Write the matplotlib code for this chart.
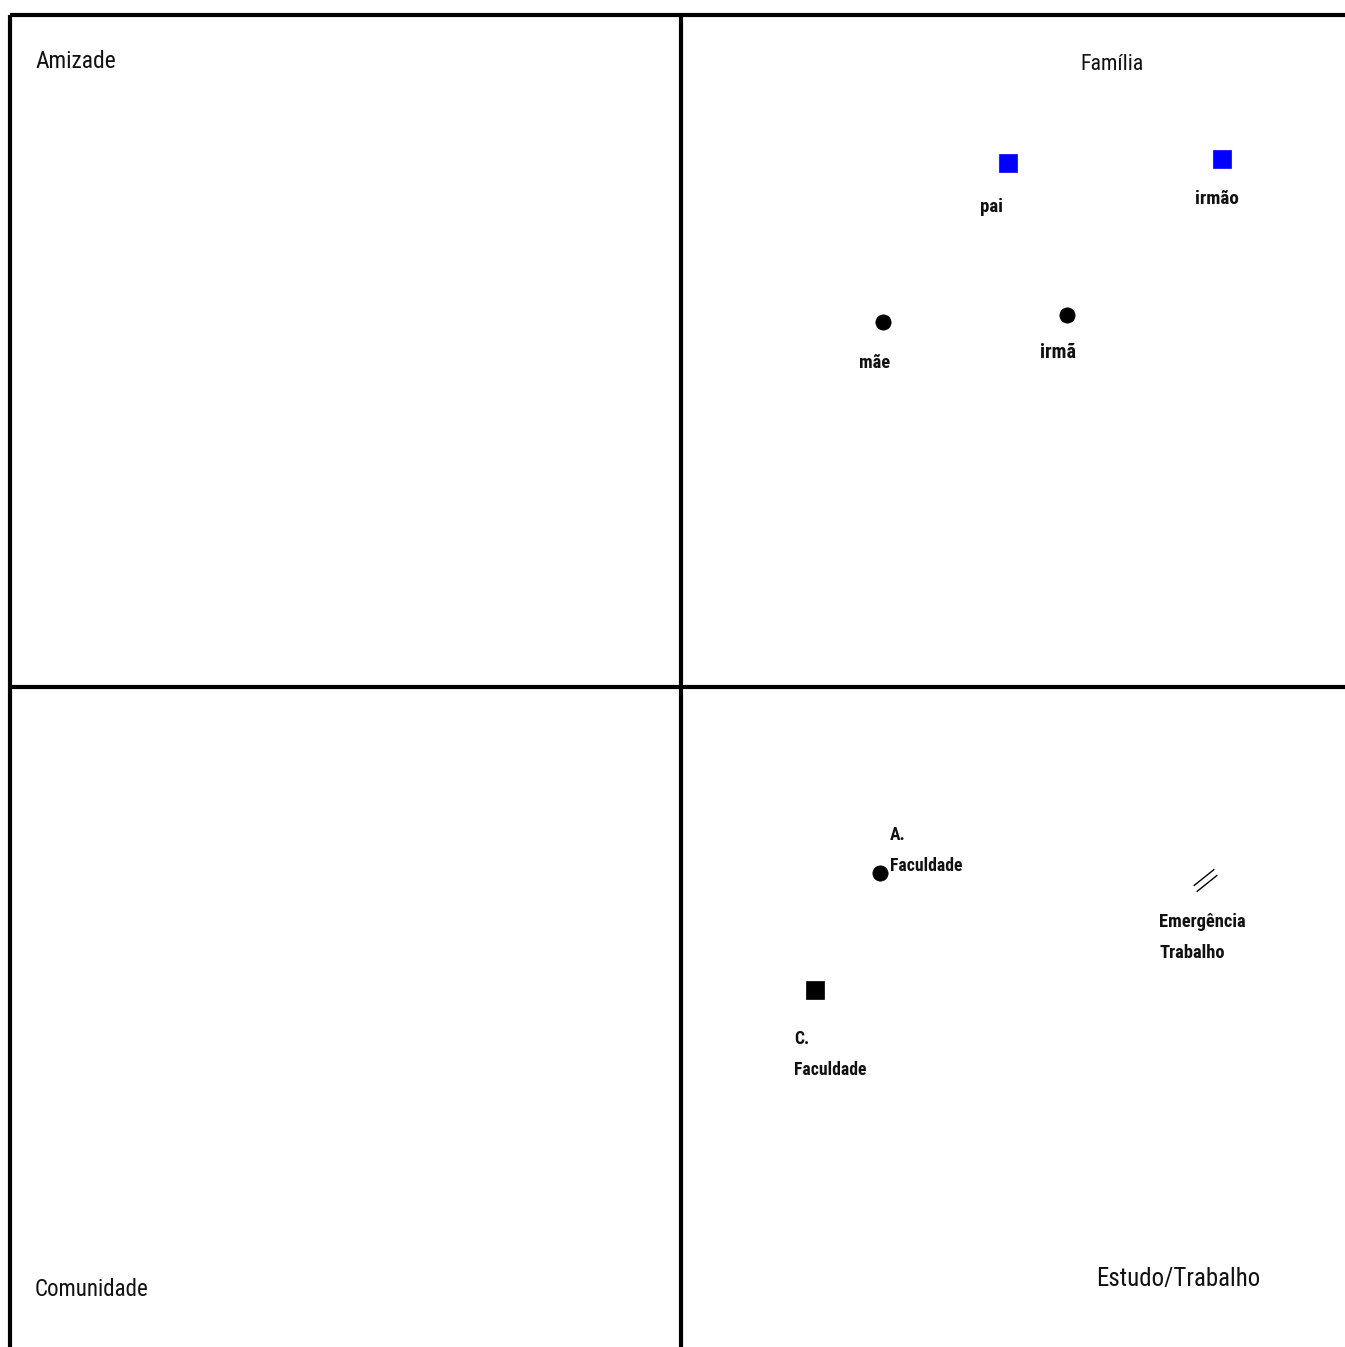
import matplotlib
matplotlib.use("Agg")
import matplotlib.pyplot as plt
from matplotlib.path import Path
from matplotlib import font_manager

# ---- data (positions on the map, pixel-like units; y grows downwards) ----
quadrant_names = ["Amizade", "Família", "Comunidade", "Estudo/Trabalho"]
quadrant_x = [35, 1080, 35, 1096]
quadrant_y = [61, 65, 1290, 1279]
quadrant_w = [80, 63, 113, 163]          # rendered width of each label (px)

node_names = ["pai", "irmão", "mãe", "irmã", "A.\nFaculdade", "C.\nFaculdade", "Emergência\nTrabalho"]
node_x = [1008, 1222, 883, 1067, 880, 815, 1205]
node_y = [163, 159, 322, 315, 873, 990, 880]
node_kind = ["man_sq", "man_sq", "woman", "woman", "woman", "black_sq", "broken"]

# label layout: left x of label block, y of first line centre, line step
label_x = [980, 1195, 859, 1040, 890, 794, 1159]
label_y = [207, 199, 363, 353, 835, 1039, 922]
label_step = 31
label_w = [23, 44, 31, 36, 72, 72, 87]   # width of the widest line (px)

# ---- font: prefer a narrow / condensed face ----
cands = []
for f in font_manager.fontManager.ttflist:
    n = f.name.lower()
    st = str(f.stretch).lower()
    if ("narrow" in n or "condensed" in n or "condensed" in st) and f.style == "normal":
        score = 0
        if "liberation sans narrow" in n:
            score = 5
        elif "roboto" in n:
            score = 4
        elif "dejavu" in n:
            score = 3
        elif "open sans" in n:
            score = 2
        wt = f.weight if isinstance(f.weight, int) else 400
        cands.append((score, -abs(wt - 400), f.fname, wt))
cands.sort(reverse=True)
if cands:
    reg_file = cands[0][2]
    fp_reg = font_manager.FontProperties(fname=reg_file)
    bold = [c for c in cands if c[0] == cands[0][0] and c[3] >= 600]
    fp_bold = font_manager.FontProperties(fname=bold[0][2]) if bold else font_manager.FontProperties(fname=reg_file, weight="bold")
else:
    fp_reg = font_manager.FontProperties(family="DejaVu Sans")
    fp_bold = font_manager.FontProperties(family="DejaVu Sans", weight="bold")

W, H = 1345, 1347
fig = plt.figure(figsize=(W / 100, H / 100), dpi=100)
ax = fig.add_axes([0, 0, 1, 1])
ax.set_xlim(0, W)
ax.set_ylim(H, 0)
ax.axis("off")
renderer = fig.canvas.get_renderer()


def fit(txt, width):
    txt.set_fontsize(10)
    w = txt.get_window_extent(renderer).width
    txt.set_fontsize(10 * width / w)


lw = 3.0
ax.plot([10, W], [15, 15], color="black", lw=lw, solid_capstyle="butt")
ax.plot([10, 10], [15, H], color="black", lw=lw, solid_capstyle="butt")
ax.plot([681, 681], [15, H], color="black", lw=lw, solid_capstyle="butt")
ax.plot([10, W], [687, 687], color="black", lw=lw, solid_capstyle="butt")

for name, x, y, w in zip(quadrant_names, quadrant_x, quadrant_y, quadrant_w):
    t = ax.text(x, y, name, fontproperties=fp_reg, ha="left", va="center", color="#111111")
    fit(t, w)

broken = Path([(-1, -0.45), (0.75, 0.95), (-0.75, -0.95), (1, 0.45)],
              [Path.MOVETO, Path.LINETO, Path.MOVETO, Path.LINETO])

styles = {
    "man_sq": dict(marker="s", color="#0000ff", ms=12.5),
    "woman": dict(marker="o", color="black", ms=11),
    "black_sq": dict(marker="s", color="black", ms=12.5),
    "broken": dict(marker=broken, color="black", ms=17, mew=1.0),
}

for i, (name, x, y, kind) in enumerate(zip(node_names, node_x, node_y, node_kind)):
    st = styles[kind]
    ax.plot([x], [y], linestyle="none", marker=st["marker"], color=st["color"],
            markersize=st["ms"], markeredgewidth=st.get("mew", 0.5))
    lines = name.split("\n")
    texts = []
    for j, line in enumerate(lines):
        t = ax.text(label_x[i], label_y[i] + j * label_step, line, fontproperties=fp_bold,
                    ha="left", va="center", color="#111111")
        texts.append(t)
    widest = max(texts, key=lambda t: len(t.get_text()))
    fit(widest, label_w[i])
    for t in texts:
        t.set_fontsize(widest.get_fontsize())

fig.savefig("out.png", dpi=100)
